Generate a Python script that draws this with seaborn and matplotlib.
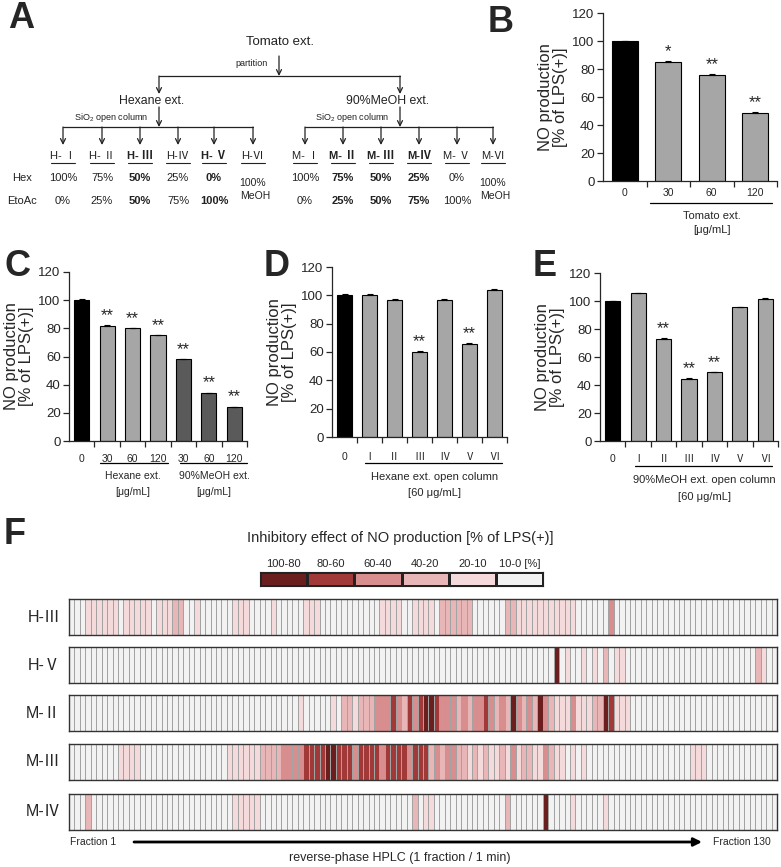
import numpy as np
import matplotlib
matplotlib.use("Agg")
import matplotlib.pyplot as plt
import seaborn as sns
from matplotlib.colors import ListedColormap

sns.set_style("ticks")
plt.rcParams['font.family'] = ['Liberation Sans', 'Noto Sans CJK JP', 'DejaVu Sans']
plt.rcParams['mathtext.default'] = 'regular'

W, H = 781, 867

# ---------------------------------------------------------------- data
# panel B: tomato extract dose
b_labels = ['0', '30', '60', '120']
b_values = [100, 85, 75.5, 48.5]
b_errs = [0.3, 0.6, 0.6, 0.6]
b_stars = ['', '*', '**', '**']

# panel C: hexane / 90% MeOH extracts
c_labels = ['0', '30', '60', '120', '30', '60', '120']
c_values = [100, 82, 80, 75, 58, 34, 24]
c_errs = [0.5, 0.3, 0.4, 0.4, 0.4, 0.3, 0.4]
c_stars = ['', '**', '**', '**', '**', '**', '**']

# panel D: hexane open column fractions
d_labels = ['0', 'Ⅰ', 'Ⅱ', 'Ⅲ', 'Ⅳ', 'Ⅴ', 'Ⅵ']
d_values = [100, 100.5, 96.5, 60, 96.5, 66, 104]
d_errs = [0.8, 0.6, 0.6, 0.6, 0.8, 0.4, 0.5]
d_stars = ['', '', '', '**', '', '**', '']

# panel E: 90% MeOH open column fractions
e_labels = ['0', 'Ⅰ', 'Ⅱ', 'Ⅲ', 'Ⅳ', 'Ⅴ', 'Ⅵ']
e_values = [100, 105.5, 73, 44.5, 49, 95.5, 101.5]
e_errs = [0.3, 0.5, 0.6, 0.5, 0.4, 0.5, 0.4]
e_stars = ['', '', '**', '**', '**', '', '']

# panel F: inhibition level per HPLC fraction (0: 10-0 ... 5: 100-80)
f_rows = ['H-Ⅲ', 'H-Ⅴ', 'M-Ⅱ', 'M-Ⅲ', 'M-Ⅳ']
f_h3 = ("0001111110 1111101112 2001000000 1110000100 0001110000 0000000111 1001111022 "
        "2222000000 2211111111 1110000003 0000000000 0000000000 0000000000")
f_h5 = ("0000000000 0000000000 0000000000 0000000000 0000000000 0000000000 0000000000 "
        "0000000000 0000000005 0100101020 1100000000 0000000000 0000002100")
f_m2 = ("0000000000 0000000000 0000000000 0000000000 0010000010 2212223334 3243455433 "
        "3232334323 2532325321 1131112254 1110000000 0000000000 0000000000")
f_m3 = ("0000000001 1110000000 0000000001 1111122223 3334444554 4434444344 4434442323 "
        "3221212112 1312211321 1010100000 0000000000 0000111000 0000000000")
f_m4 = ("0002000000 0000000000 0000000000 1111100000 0000000000 0000000000 0002011000 "
        "0000000000 2000000500 0010000010 0000000000 0000000000 0000000000")
f_legend = ['100-80', '80-60', '60-40', '40-20', '20-10', '10-0 [%]']
f_colors = ['#f2f2f2', '#f4dada', '#e8b6b6', '#d88e8e', '#a23939', '#6b1e1e']

# panel A: fractionation scheme
h_frac = ['H- Ⅰ', 'H- Ⅱ', 'H- Ⅲ', 'H-Ⅳ', 'H- Ⅴ', 'H-Ⅵ']
m_frac = ['M- Ⅰ', 'M- Ⅱ', 'M- Ⅲ', 'M-Ⅳ', 'M- Ⅴ', 'M-Ⅵ']
hex_pct = ['100%', '75%', '50%', '25%', '0%', '100%']
etoac_pct = ['0%', '25%', '50%', '75%', '100%', '']
h_bold = [False, False, True, False, True, False]
m_bold = [False, True, True, True, False, False]


def box(x0, y0, x1, y1):
    return [x0 / W, 1 - y1 / H, (x1 - x0) / W, (y1 - y0) / H]


fig = plt.figure(figsize=(W / 100, H / 100), dpi=100)

# overlay in pixel coordinates for the scheme and the panel letters
ov = fig.add_axes([0, 0, 1, 1])
ov.set_xlim(0, W)
ov.set_ylim(H, 0)
ov.axis('off')

for letter, (lx, ly) in zip('ABCDEF', [(8, 18), (488, 22), (4, 266), (264, 266), (533, 267), (4, 534)]):
    ov.text(lx, ly, letter, fontsize=26, fontweight='bold', va='center', ha='left')

ink = '#222222'
arw = dict(arrowstyle='->', lw=0.9, color=ink, shrinkA=0, shrinkB=0, mutation_scale=9)


def down_arrow(x, y0, y1):
    ov.annotate('', xy=(x, y1), xytext=(x, y0), arrowprops=arw)


ov.text(280, 42, 'Tomato ext.', fontsize=9.5, ha='center', va='center', color=ink)
ov.text(268, 63, 'partition', fontsize=6.5, ha='right', va='center', color=ink)
down_arrow(279, 56, 76)
ov.plot([159, 400], [76, 76], color=ink, lw=0.9)
down_arrow(159, 76, 94)
down_arrow(400, 76, 94)
ov.text(152, 101, 'Hexane ext.', fontsize=8.8, ha='center', va='center', color=ink)
ov.text(388, 101, '90%MeOH ext.', fontsize=8.8, ha='center', va='center', color=ink)
ov.text(148, 117, 'SiO$_2$ open column', fontsize=6.5, ha='right', va='center', color=ink)
ov.text(389, 117, 'SiO$_2$ open column', fontsize=6.5, ha='right', va='center', color=ink)
down_arrow(159, 107, 127)
down_arrow(400, 107, 127)

h_x = [63, 102, 140, 178, 214, 253]
m_x = [305, 343, 381, 419, 457, 493]
ov.plot([h_x[0], h_x[-1]], [127, 127], color=ink, lw=0.9)
ov.plot([m_x[0], m_x[-1]], [127, 127], color=ink, lw=0.9)
ov.text(12, 178, 'Hex', fontsize=8, ha='left', va='center', color=ink)
ov.text(7, 201, 'EtoAc', fontsize=8, ha='left', va='center', color=ink)
for xs, names, bolds in [(h_x, h_frac, h_bold), (m_x, m_frac, m_bold)]:
    for x, name, bold, hx, ex in zip(xs, names, bolds, hex_pct, etoac_pct):
        fw = 'bold' if bold else 'normal'
        down_arrow(x, 127, 145)
        ov.text(x, 156, name, fontsize=8, ha='center', va='center', fontweight=fw, color=ink)
        ov.plot([x - 12, x + 12], [163, 163], color=ink, lw=0.8)
        if ex:
            ov.text(x, 178, hx, fontsize=8, ha='center', va='center', fontweight=fw, color=ink)
            ov.text(x, 201, ex, fontsize=8, ha='center', va='center', fontweight=fw, color=ink)
        else:
            ov.text(x, 183, hx, fontsize=7.5, ha='center', va='center', color=ink)
            ov.text(x + 2, 196, 'MeOH', fontsize=7.5, ha='center', va='center', color=ink)


# ---------------------------------------------------------------- bars
def bar_panel(rect, labels, values, errs, colors, stars, pad):
    ax = fig.add_axes(box(*rect))
    cats = [f'c{i}' for i in range(len(values))]
    sns.barplot(x=cats, y=values, hue=cats, palette=dict(zip(cats, colors)), legend=False,
                width=0.6, edgecolor='black', linewidth=0.8, errorbar=None, ax=ax)
    pos = np.arange(len(values))
    ax.errorbar(pos, values, yerr=[np.zeros(len(errs)), errs], fmt='none', ecolor='black',
                elinewidth=0.8, capsize=2.5, capthick=0.8)
    for p, v, e, s in zip(pos, values, errs, stars):
        if s:
            ax.text(p, v + e + 1.5, s, ha='center', va='bottom', fontsize=12)
    n = len(values)
    ax.set_xlim(-0.5, n - 0.5)
    ax.set_ylim(0, 120)
    ax.set_yticks(range(0, 121, 20))
    ax.set_xticks(pos + 0.5)
    ax.set_xticklabels([])
    ax.set_xticks(pos, minor=True)
    ax.set_xticklabels(labels, minor=True)
    ax.tick_params(axis='x', which='major', length=4, width=0.9, direction='out')
    ax.tick_params(axis='x', which='minor', length=0, labelsize=7.5, pad=pad)
    ax.tick_params(axis='y', length=4, width=0.9, labelsize=9.5, pad=2)
    ax.set_ylabel('NO production\n[% of LPS(+)]', fontsize=12, linespacing=1.0, labelpad=3)
    ax.set_xlabel('')
    sns.despine(ax=ax)
    for sp in ['left', 'bottom']:
        ax.spines[sp].set_linewidth(0.9)
    return ax


def group_line(ax, rect, x0, x1, ypx):
    yf = (rect[3] - ypx) / (rect[3] - rect[1])
    ax.plot([x0, x1], [yf, yf], transform=ax.get_xaxis_transform(), color='black',
            lw=0.9, clip_on=False)


def group_text(ax, rect, x, ypx, s, size):
    yf = (rect[3] - ypx) / (rect[3] - rect[1])
    ax.text(x, yf, s, transform=ax.get_xaxis_transform(), ha='center', va='center',
            fontsize=size)


blk, gry, dgr = '#000000', '#a6a6a6', '#5a5a5a'

rb = (603, 13, 777, 181)
axb = bar_panel(rb, b_labels, b_values, b_errs, [blk, gry, gry, gry], b_stars, 5)
group_line(axb, rb, 0.58, 3.38, 203)
group_text(axb, rb, 2.0, 216, 'Tomato ext.', 8)
group_text(axb, rb, 2.0, 230, '[μg/mL]', 8)

rc = (69, 272, 247, 441)
axc = bar_panel(rc, c_labels, c_values, c_errs, [blk, gry, gry, gry, dgr, dgr, dgr], c_stars, 9)
group_line(axc, rc, 0.72, 3.38, 463)
group_line(axc, rc, 3.86, 6.5, 463)
group_text(axc, rc, 2.0, 476, 'Hexane ext.', 7.5)
group_text(axc, rc, 2.0, 492, '[μg/mL]', 7.5)
group_text(axc, rc, 5.2, 476, '90%MeOH ext.', 7.5)
group_text(axc, rc, 5.2, 492, '[μg/mL]', 7.5)

rd = (332, 267, 507, 437)
axd = bar_panel(rd, d_labels, d_values, d_errs, [blk] + [gry] * 6, d_stars, 11)
group_line(axd, rd, 0.82, 6.3, 463)
group_text(axd, rd, 3.6, 477, 'Hexane ext. open column', 8)
group_text(axd, rd, 3.6, 493, '[60 μg/mL]', 8)

re_ = (600, 273, 778, 441)
axe = bar_panel(re_, e_labels, e_values, e_errs, [blk] + [gry] * 6, e_stars, 9)
group_line(axe, re_, 0.88, 6.27, 466)
group_text(axe, re_, 3.6, 480, '90%MeOH ext. open column', 8)
group_text(axe, re_, 3.6, 497, '[60 μg/mL]', 8)

# ---------------------------------------------------------------- heatmap F
cmap = ListedColormap(f_colors)
ov.text(400, 538, 'Inhibitory effect of NO production [% of LPS(+)]', fontsize=10.5,
        ha='center', va='center')

axl = fig.add_axes(box(260, 572, 543, 586))
sns.heatmap(np.array([[5, 4, 3, 2, 1, 0]]), cmap=cmap, vmin=-0.5, vmax=5.5, cbar=False,
            linewidths=0.8, linecolor='#222222', xticklabels=f_legend, yticklabels=False, ax=axl)
axl.xaxis.tick_top()
axl.tick_params(axis='x', length=0, labelsize=8, pad=2, rotation=0)
for sp in axl.spines.values():
    sp.set_visible(True)
    sp.set_color('#222222')
    sp.set_linewidth(0.8)

row_tops = [599, 647, 695, 744, 794]
for name, row, top in zip(f_rows, [f_h3, f_h5, f_m2, f_m3, f_m4], row_tops):
    arr = np.array([int(c) for c in row.replace(' ', '')]).reshape(1, -1)
    ax = fig.add_axes(box(69, top, 777, top + 36))
    sns.heatmap(arr, cmap=cmap, vmin=-0.5, vmax=5.5, cbar=False, linewidths=0.7,
                linecolor='#a3a3a3', xticklabels=False, yticklabels=[name], ax=ax)
    ax.tick_params(axis='y', length=0, labelsize=11.5, pad=6, rotation=0)
    for sp in ax.spines.values():
        sp.set_visible(True)
        sp.set_color('#333333')
        sp.set_linewidth(1.0)

ov.text(70, 842, 'Fraction 1', fontsize=7.5, ha='left', va='center')
ov.text(713, 842, 'Fraction 130', fontsize=7.5, ha='left', va='center')
ov.annotate('', xy=(702, 842), xytext=(134, 842),
            arrowprops=dict(arrowstyle='-|>', lw=2, color='black', shrinkA=0, shrinkB=0,
                            mutation_scale=12))
ov.text(400, 858, 'reverse-phase HPLC (1 fraction / 1 min)', fontsize=9, ha='center',
        va='center')

fig.savefig('out.png', dpi=100)
